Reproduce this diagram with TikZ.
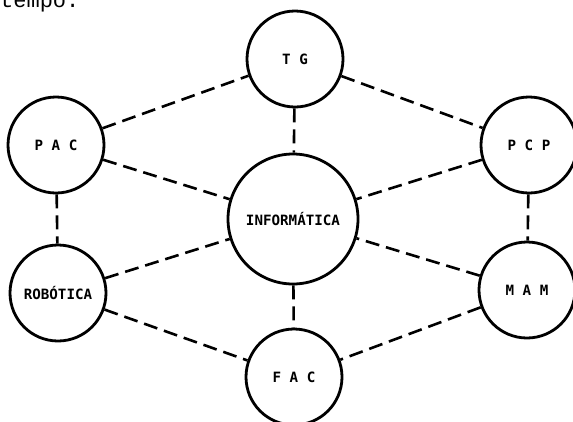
\documentclass[tikz,border=0pt]{standalone}
\usepackage{fontspec}
\newfontfamily\labelfont{DejaVu Sans Mono}
\newfontfamily\typefont{Liberation Mono}
\begin{document}
\begin{tikzpicture}[x=1pt,y=-1pt,
  topic/.style={circle, draw, line width=2.8pt, inner sep=0pt,
    minimum size=96pt, font=\labelfont\bfseries\fontsize{14.2}{16}\selectfont},
  hub/.style={topic, minimum size=130pt},
  link/.style={line width=2.6pt, dash pattern=on 14pt off 7pt}]
\useasboundingbox (0,0) rectangle (573,421);

% running text above the figure
\node[anchor=base west, inner sep=0pt, font=\typefont\fontsize{22}{24}\selectfont]
  (tempo) at (0,7.5) {tempo.};

% areas
\node[hub]   (info) at (293,219) {INFORMÁTICA};
\node[topic] (tg)   at (295,59)  {T G};
\node[topic] (pac)  at (56,145)  {P A C};
\node[topic] (rob)  at (58,293)  {ROBÓTICA};
\node[topic] (pcp)  at (529,145) {P C P};
\node[topic] (mam)  at (527,290) {M A M};
\node[topic] (fac)  at (294,377) {F A C};

% links between areas
\draw[link] (pac) -- (tg);
\draw[link] (tg) -- (pcp);
\draw[link] (tg) -- (info);
\draw[link] (pac) -- (info);
\draw[link] (pcp) -- (info);
\draw[link] (pac) -- (rob);
\draw[link] (pcp) -- (mam);
\draw[link] (rob) -- (info);
\draw[link] (mam) -- (info);
\draw[link] (rob) -- (fac);
\draw[link] (mam) -- (fac);
\draw[link] (info) -- (fac);
\end{tikzpicture}
\end{document}
